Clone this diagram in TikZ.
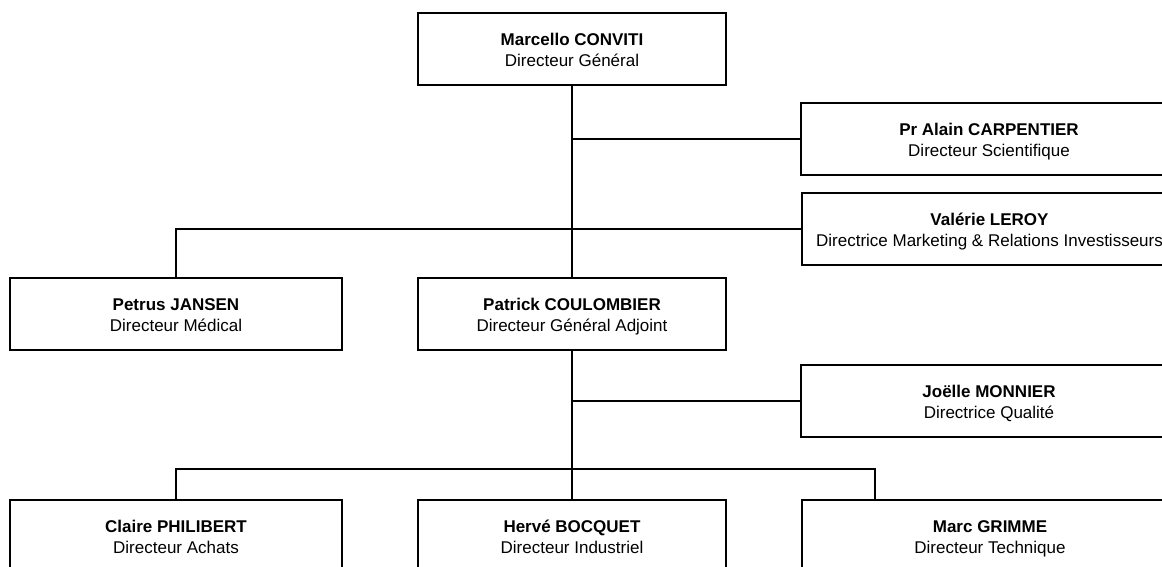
\documentclass[tikz,border=0pt]{standalone}
\usepackage{fontspec}
\setmainfont{Liberation Sans}
\newcommand{\pbox}[2]{\raisebox{0pt}[13pt][0pt]{\textbf{#1}}\\\raisebox{0pt}[13pt][0pt]{#2}}
\begin{document}
\begin{tikzpicture}[x=1pt,y=-1pt,
  person/.style={draw=black, line width=2pt, rectangle, inner sep=0pt, align=center,
    font=\fontsize{17}{21}\selectfont, minimum height=72pt},
  narrow/.style={person, minimum width=332pt},
  mid/.style={person, minimum width=308pt},
  wide/.style={person, minimum width=376pt},
  link/.style={draw=black, line width=2pt}]
\useasboundingbox (0,0) rectangle (1162,566);
\clip (0,0) rectangle (1162,566);
\node[mid]    (conv)   at (572,49)    {\pbox{Marcello CONVITI}{Directeur Général}};
\node[wide]   (carp)   at (989,139)   {\pbox{Pr Alain CARPENTIER}{Directeur Scientifique}};
\node[wide]   (leroy)  at (989.5,229) {\pbox{Valérie LEROY}{Directrice Marketing \& Relations Investisseurs}};
\node[narrow] (jansen) at (176,314)   {\pbox{Petrus JANSEN}{Directeur Médical}};
\node[mid]    (coul)   at (572,314)   {\pbox{Patrick COULOMBIER}{Directeur Général Adjoint}};
\node[wide]   (monn)   at (989,401)   {\pbox{Joëlle MONNIER}{Directrice Qualité}};
\node[narrow] (phil)   at (176,536)   {\pbox{Claire PHILIBERT}{Directeur Achats}};
\node[mid]    (bocq)   at (572,536)   {\pbox{Hervé BOCQUET}{Directeur Industriel}};
\node[wide]   (grim)   at (990,536)   {\pbox{Marc GRIMME}{Directeur Technique}};
\coordinate (gtop) at (875,500);
\coordinate (bus) at (572,469);
\draw[link] (conv.south) -- (coul.north);
\draw[link] (carp.west) -- (carp.west -| conv.south);
\draw[link] (leroy.west) -- (jansen.north |- leroy.west) -- (jansen.north);
\draw[link] (coul.south) -- (bocq.north);
\draw[link] (monn.west) -- (monn.west -| coul.south);
\draw[link] (phil.north) -- (phil.north |- bus) -- (bus -| gtop) -- (gtop);
\end{tikzpicture}
\end{document}
